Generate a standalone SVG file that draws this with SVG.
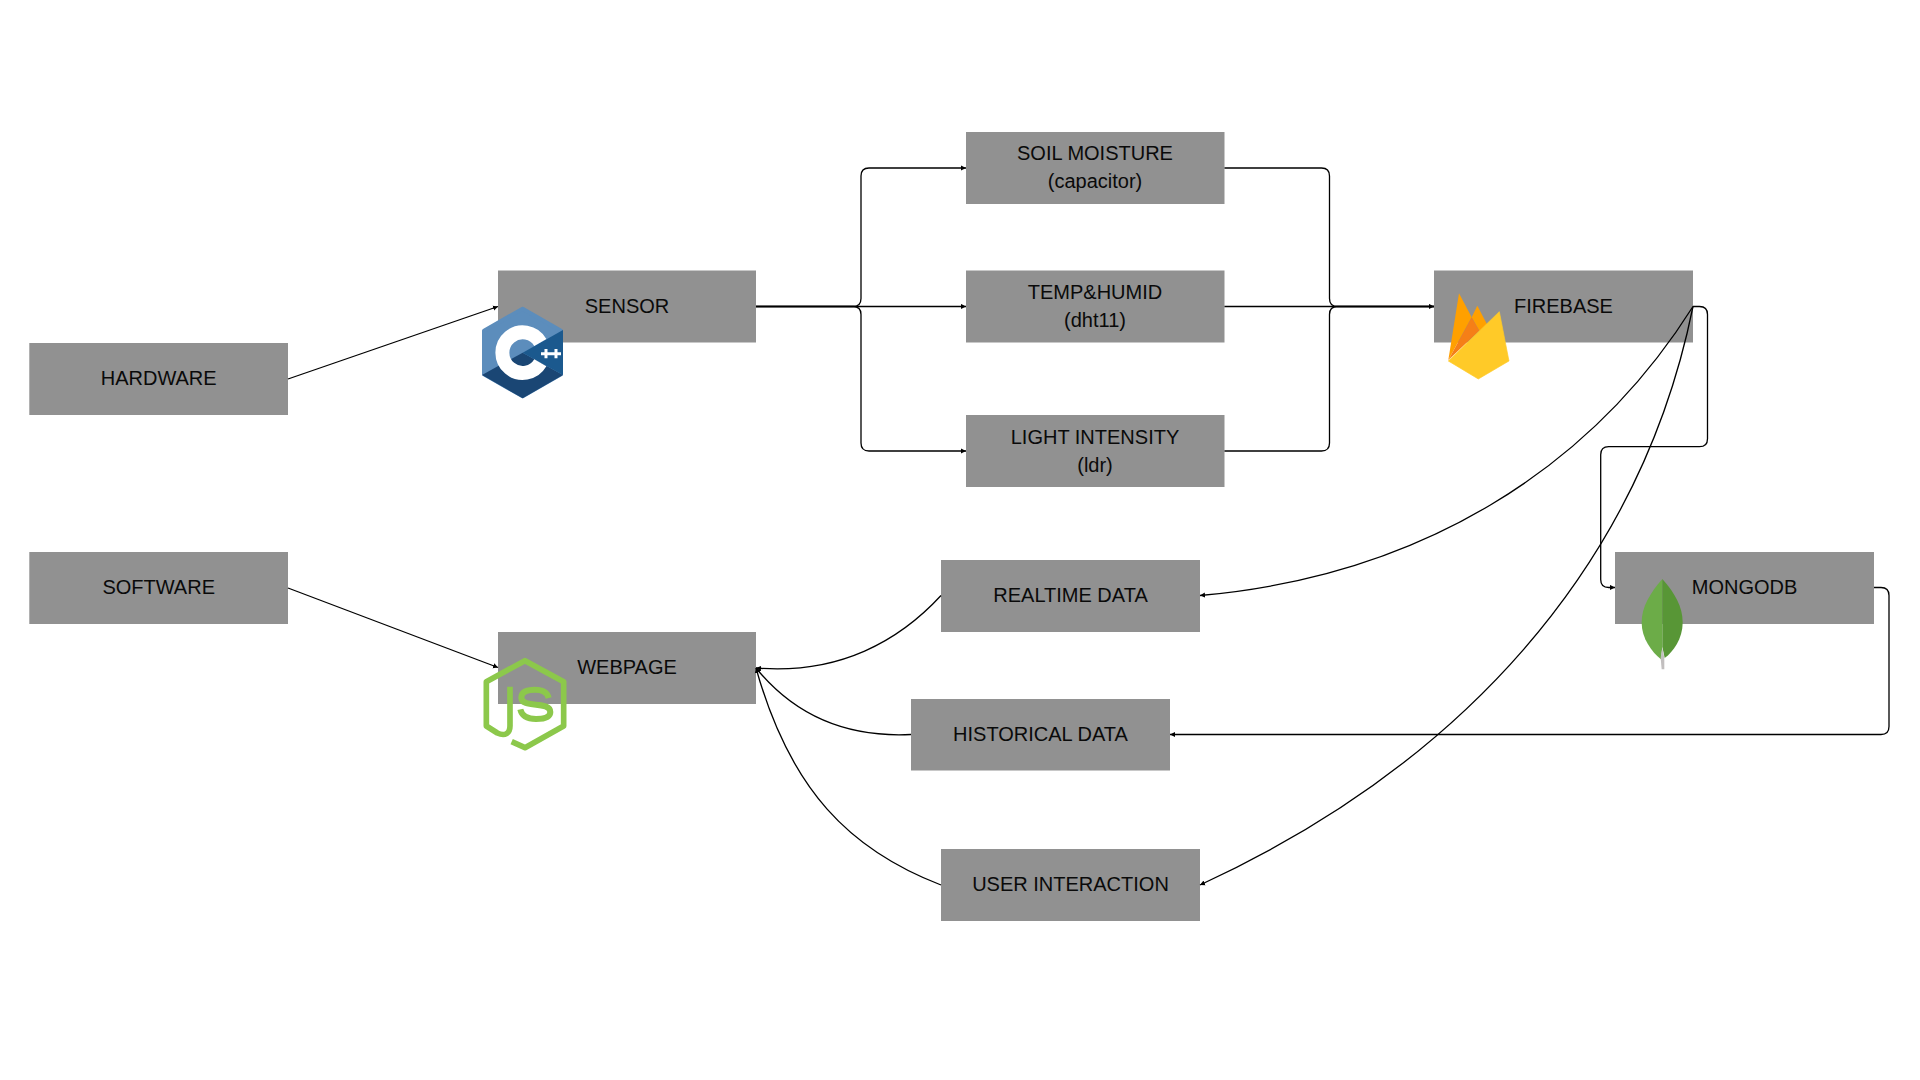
<svg xmlns="http://www.w3.org/2000/svg" width="1920" height="1080" viewBox="0 0 1920 1080">
<style>
.box{fill:#919191}
.lbl{font-family:"Liberation Sans",Arial,sans-serif;font-size:20px;fill:#0a0a0a;text-anchor:middle}
.c{fill:none;stroke:#000;stroke-width:1.3}
</style>
<defs>
<marker id="a" markerUnits="userSpaceOnUse" markerWidth="7" markerHeight="7" refX="5" refY="3" orient="auto"><path d="M0 0.4L5 3L0 5.6Z" fill="#000"/></marker>
</defs>
<rect width="1920" height="1080" fill="#fff"/>
<g id="hardware"><rect class="box" x="29.300" y="343" width="258.700" height="72"/><text class="lbl" x="158.700" y="385">HARDWARE</text></g>
<g id="software"><rect class="box" x="29.300" y="552" width="258.700" height="72"/><text class="lbl" x="158.700" y="594">SOFTWARE</text></g>
<g id="sensor"><rect class="box" x="498" y="270.500" width="258" height="72"/><text class="lbl" x="627" y="313">SENSOR</text>
<g id="cpp-icon" transform="translate(460 260) scale(.3333)">
<path d="M188 146L303 212V343L188 409L72 343V212Z" fill="#5c8dbc" stroke="#5c8dbc" stroke-width="12" stroke-linejoin="round"/>
<path d="M188 278L309 345L188 415L66 345Z" fill="#1a4674"/>
<path d="M188 278L309 210V345Z" fill="#1b598e"/>
<path d="M241 247.500A61 61 0 1 0 241 308.500" fill="none" stroke="#fff" stroke-width="42"/>
<path d="M243 281H273M258 267V295M273 281H303M288 267V295" fill="none" stroke="#fff" stroke-width="9"/>
</g></g>
<g id="webpage"><rect class="box" x="498" y="632" width="258" height="72"/><text class="lbl" x="627" y="674">WEBPAGE</text>
<g id="node-icon" transform="translate(460 620) scale(.3333)" fill="none" stroke="#8cc84b">
<path d="M155 365L195 383L311 318V185L195 122L79 185V318L112 339C135 350 150 340 150 318V200" stroke-width="17" stroke-linejoin="round"/>
<path d="M266 234C262 216 246 209 225 209C200 209 184 216 184 233C184 250 205 252 228 254C252 256 271 260 271 276C271 292 250 297 228 297C205 297 186 290 181 268" stroke-width="18"/>
</g></g>
<g id="soil"><rect class="box" x="966" y="132" width="258.500" height="72"/><text class="lbl" x="1095" y="160">SOIL MOISTURE</text><text class="lbl" x="1095" y="188">(capacitor)</text></g>
<g id="temp"><rect class="box" x="966" y="270.500" width="258.500" height="72"/><text class="lbl" x="1095" y="299">TEMP&amp;HUMID</text><text class="lbl" x="1095" y="327">(dht11)</text></g>
<g id="light"><rect class="box" x="966" y="415" width="258.500" height="72"/><text class="lbl" x="1095" y="444">LIGHT INTENSITY</text><text class="lbl" x="1095" y="472">(ldr)</text></g>
<g id="firebase"><rect class="box" x="1434" y="270.500" width="259" height="72"/><text class="lbl" x="1563.500" y="313">FIREBASE</text>
<g id="firebase-icon" transform="translate(1420 260) scale(.3333)">
<path d="M85 300L117 100L155 172Z" fill="#ffa000"/>
<path d="M155 172L172 137L210 210L178 212Z" fill="#ffa000"/>
<path d="M85 300L155 172L178 212Z" fill="#f57f17"/>
<path d="M85 303L238 155L267 303L175 357Z" fill="#ffca28" stroke="#ffca28" stroke-width="2" stroke-linejoin="round"/>
</g></g>
<g id="mongodb"><rect class="box" x="1615" y="552" width="259" height="72"/><text class="lbl" x="1744.500" y="594">MONGODB</text>
<g id="mongo-icon" transform="translate(1580 430) scale(.3333)">
<path d="M247 447C210 490 185 530 185 578C185 625 215 665 243 688L247 650Z" fill="#6cac48"/>
<path d="M247 447C285 490 308 530 308 578C308 625 280 665 254 684L247 650Z" fill="#589636"/>
<path d="M247 652L253 684L253 718H245L242 684Z" fill="#c2bfbf"/>
</g></g>
<g id="realtime"><rect class="box" x="941" y="560" width="259" height="72"/><text class="lbl" x="1070.500" y="602">REALTIME DATA</text></g>
<g id="historical"><rect class="box" x="911" y="699" width="259" height="71.500"/><text class="lbl" x="1040.500" y="741">HISTORICAL DATA</text></g>
<g id="user"><rect class="box" x="941" y="849" width="259" height="72"/><text class="lbl" x="1070.500" y="891">USER INTERACTION</text></g>
<g id="connectors">
<path class="c" marker-end="url(#a)" d="M288 379L498 306.500"/>
<path class="c" marker-end="url(#a)" d="M288 588L498 667.500"/>
<path class="c" marker-end="url(#a)" d="M756 306.500H853Q861 306.500 861 298.500V176Q861 168 869 168H966"/>
<path class="c" marker-end="url(#a)" d="M756 306.500H966"/>
<path class="c" marker-end="url(#a)" d="M756 306.500H853Q861 306.500 861 314.500V443Q861 451 869 451H966"/>
<path class="c" d="M1224.500 168H1321.500Q1329.500 168 1329.500 176V298.500Q1329.500 306.500 1337.500 306.500H1434"/>
<path class="c" marker-end="url(#a)" d="M1224.500 306.500H1434"/>
<path class="c" d="M1224.500 451H1321.500Q1329.500 451 1329.500 443V314.500Q1329.500 306.500 1337.500 306.500H1434"/>
<path class="c" marker-end="url(#a)" d="M1693 306.500H1699.500Q1707.500 306.500 1707.500 314.500V438.700Q1707.500 446.700 1699.500 446.700H1608.700Q1600.700 446.700 1600.700 454.700V579.500Q1600.700 587.500 1608.700 587.500H1615"/>
<path class="c" marker-end="url(#a)" d="M1874 587.500H1881Q1889 587.500 1889 595.500V726.500Q1889 734.500 1881 734.500H1170"/>
<path class="c" marker-end="url(#a)" d="M1693 306.500C1590 470 1420 576 1200 595.500"/>
<path class="c" marker-end="url(#a)" d="M1693 306.500C1640 568 1460 765 1200 885"/>
<path class="c" marker-end="url(#a)" d="M941 595.500C900 640 840 675 756 668"/>
<path class="c" marker-end="url(#a)" d="M911 734.500C840 738 790 710 756 668"/>
<path class="c" marker-end="url(#a)" d="M941 885C850 850 790 790 756 668"/>
</g>
</svg>
